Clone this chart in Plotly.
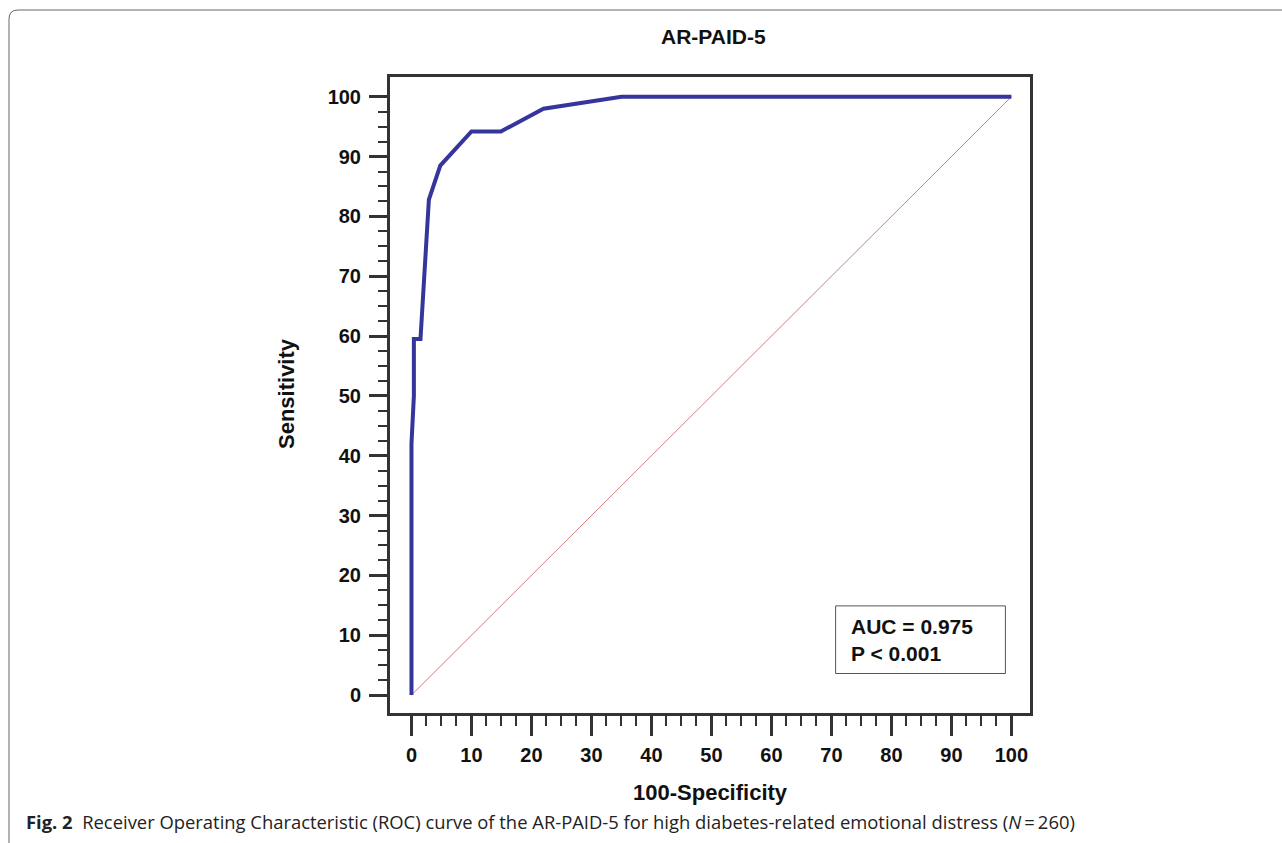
import plotly.graph_objects as go

# ROC curve values
fpr = [0, 0, 0.4, 0.4, 1.5, 2.9, 4.8, 10.0, 14.9, 22.0, 35.0, 100]
tpr = [0, 42, 50, 59.5, 59.5, 82.8, 88.5, 94.2, 94.2, 98.0, 100, 100]
ref_x = [0, 100]
ref_y = [0, 100]
tick_vals = list(range(0, 101, 10))
minor_vals = [v * 2.5 for v in range(0, 41) if (v * 2.5) % 10 != 0]

title_text = "AR-PAID-5"
x_title = "100-Specificity"
y_title = "Sensitivity"
auc_text = "AUC = 0.975"
p_text = "P &lt; 0.001"
caption = ("<b>Fig. 2</b>  Receiver Operating Characteristic (ROC) curve of the AR-PAID-5 "
           "for high diabetes-related emotional distress (<i>N</i>\u2009=\u2009260)")

FONT = "Liberation Sans, Arial, sans-serif"
W, H = 1282, 843
L, R, T, B = 390, 1030, 77, 713
pw, ph = R - L, B - T


def px(x):
    return (x - L) / pw


def py(y):
    return (B - y) / ph


fig = go.Figure()
fig.add_trace(go.Scatter(x=ref_x, y=ref_y, mode="lines",
                         line=dict(color="#cc8080", width=1), hoverinfo="skip"))
fig.add_trace(go.Scatter(x=fpr, y=tpr, mode="lines",
                         line=dict(color="#35359c", width=4)))

axis_common = dict(
    showgrid=False, zeroline=False, showline=True, linewidth=3, linecolor="#333333",
    mirror=True, ticks="outside", tickwidth=3, tickcolor="#333333",
    tickmode="array", tickvals=tick_vals,
    tickfont=dict(family=FONT, size=20, color="#111111", weight="bold"),
)
fig.update_xaxes(**axis_common, range=[-3.58, 103.1], ticklen=20,
                 ticklabelstandoff=2,
                 minor=dict(tickmode="array", tickvals=minor_vals, ticklen=10,
                            tickwidth=2, tickcolor="#333333", ticks="outside"))
fig.update_yaxes(**axis_common, range=[-3.0, 103.3], ticklen=18,
                 ticklabelstandoff=4,
                 minor=dict(tickmode="array", tickvals=minor_vals, ticklen=9,
                            tickwidth=2, tickcolor="#333333", ticks="outside"))

# AUC box
fig.add_shape(type="rect", xref="x", yref="y", x0=70.7, x1=99.0, y0=3.6, y1=14.9,
              line=dict(color="#555555", width=1), fillcolor="white", layer="below")
fig.add_annotation(x=73.0, y=11.5, xref="x", yref="y", text=auc_text, showarrow=False,
                   xanchor="left", yanchor="middle",
                   font=dict(family=FONT, size=21, color="#111111", weight="bold"))
fig.add_annotation(x=73.0, y=7.0, xref="x", yref="y", text=p_text, showarrow=False,
                   xanchor="left", yanchor="middle",
                   font=dict(family=FONT, size=21, color="#111111", weight="bold"))

# titles
fig.add_annotation(x=px(713), y=py(36), xref="paper", yref="paper", text=title_text,
                   showarrow=False, xanchor="center", yanchor="middle",
                   font=dict(family=FONT, size=21, color="#111111", weight="bold"))
fig.add_annotation(x=px(710), y=py(792), xref="paper", yref="paper", text=x_title,
                   showarrow=False, xanchor="center", yanchor="middle",
                   font=dict(family=FONT, size=22, color="#111111", weight="bold"))
fig.add_annotation(x=px(287), y=py(394), xref="paper", yref="paper", text=y_title,
                   showarrow=False, xanchor="center", yanchor="middle", textangle=-90,
                   font=dict(family=FONT, size=22, color="#111111", weight="bold"))

# caption
fig.add_annotation(x=px(24), y=py(822), xref="paper", yref="paper", text=caption,
                   showarrow=False, xanchor="left", yanchor="middle",
                   font=dict(family="Open Sans, sans-serif", size=18.4, color="#222222"))

# outer rounded page border
x0, y0, x1, y1 = px(9), py(10), px(1300), py(860)
rx, ry = 9 / pw, 9 / ph
path = (f"M {x0},{y1} L {x0},{y0 - ry} Q {x0},{y0} {x0 + rx},{y0} L {x1},{y0}")
fig.add_shape(type="path", xref="paper", yref="paper", path=path,
              line=dict(color="#666666", width=1))

fig.update_layout(
    width=W, height=H, showlegend=False,
    margin=dict(l=L, r=W - R, t=T, b=H - B),
    paper_bgcolor="white", plot_bgcolor="white",
)
fig.write_html("out.html", config={"displayModeBar": False},
               post_script="document.body.style.margin='0';document.body.style.overflow='hidden';")
